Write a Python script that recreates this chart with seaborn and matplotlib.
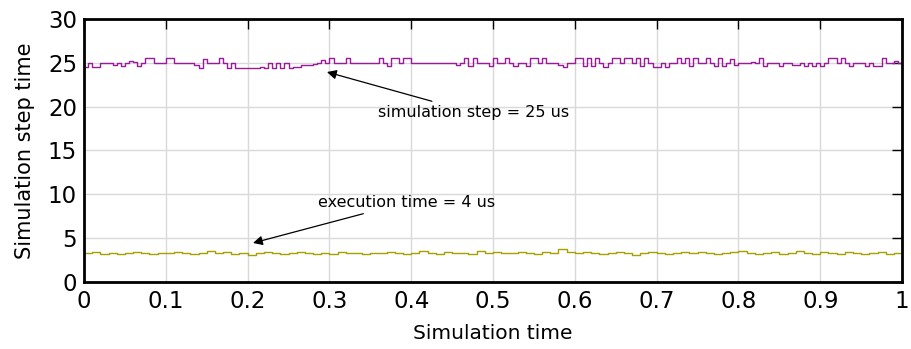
import numpy as np
import pandas as pd
import matplotlib
matplotlib.use("Agg")
import matplotlib.pyplot as plt
import seaborn as sns

# Simulation step time (purple), sampled every 0.005 of simulation time
step_values = [
    24.5, 25.0, 24.5, 24.5, 25.0, 25.0, 25.0, 24.8, 25.0, 24.6,
    25.0, 25.2, 25.1, 24.6, 25.0, 25.6, 25.6, 25.0, 25.0, 25.0,
    25.6, 25.6, 25.0, 25.0, 25.0, 25.0, 25.0, 24.8, 24.4, 25.4,
    25.0, 25.0, 25.0, 25.6, 25.0, 24.4, 25.0, 24.4, 24.4, 24.4,
    24.4, 24.4, 24.4, 24.5, 24.4, 25.0, 24.4, 25.0, 24.4, 25.0,
    24.4, 24.5, 24.5, 24.7, 24.8, 24.8, 24.9, 25.0, 25.3, 25.0,
    25.6, 25.0, 25.0, 25.0, 25.5, 25.0, 25.0, 25.0, 25.0, 25.0,
    25.0, 25.0, 25.5, 25.0, 24.6, 25.6, 25.6, 25.0, 25.6, 25.6,
    25.0, 25.0, 25.0, 25.0, 25.0, 25.0, 25.0, 25.0, 25.0, 25.0,
    25.0, 24.7, 25.0, 25.5, 24.6, 25.5, 25.0, 25.0, 25.0, 24.6,
    25.6, 25.0, 25.0, 25.6, 25.0, 24.6, 25.0, 25.0, 24.6, 25.6,
    25.6, 25.0, 25.6, 25.0, 25.0, 25.0, 24.8, 24.5, 25.0, 25.0,
    25.6, 25.6, 24.6, 25.6, 24.6, 25.6, 25.0, 24.5, 25.0, 25.6,
    25.6, 25.0, 25.6, 25.6, 25.0, 25.5, 24.6, 25.6, 25.0, 24.5,
    24.5, 25.0, 24.5, 25.0, 25.0, 25.6, 25.0, 25.6, 24.6, 25.6,
    25.0, 25.0, 25.6, 25.0, 24.6, 25.5, 24.6, 25.0, 25.4, 24.8,
    25.0, 25.0, 25.0, 25.1, 25.0, 25.6, 24.6, 25.0, 25.0, 25.0,
    24.6, 25.0, 25.0, 24.8, 24.8, 25.0, 24.6, 25.0, 24.6, 25.0,
    24.6, 25.0, 25.6, 25.6, 25.0, 25.6, 25.0, 24.6, 25.0, 25.0,
    25.0, 24.6, 25.0, 24.6, 24.6, 25.6, 25.0, 25.0, 25.2, 25.0, 25.0,
]

# Execution time (yellow), sampled every 0.01 of simulation time
exec_values = [
    3.3, 3.45, 3.2, 3.35, 3.15, 3.3, 3.45, 3.3, 3.15, 3.35,
    3.3, 3.45, 3.3, 3.15, 3.3, 3.5, 3.3, 3.45, 3.2, 3.3,
    3.1, 3.3, 3.45, 3.3, 3.2, 3.35, 3.45, 3.3, 3.15, 3.3,
    3.15, 3.45, 3.3, 3.35, 3.2, 3.3, 3.3, 3.45, 3.3, 3.15,
    3.3, 3.5, 3.3, 3.15, 3.45, 3.3, 3.35, 3.2, 3.5, 3.3,
    3.45, 3.3, 3.3, 3.45, 3.3, 3.2, 3.45, 3.3, 3.75, 3.4,
    3.3, 3.45, 3.3, 3.15, 3.3, 3.45, 3.3, 3.1, 3.3, 3.45,
    3.3, 3.2, 3.3, 3.45, 3.3, 3.45, 3.3, 3.15, 3.3, 3.45,
    3.5, 3.3, 3.15, 3.3, 3.45, 3.2, 3.3, 3.5, 3.3, 3.15,
    3.45, 3.3, 3.2, 3.45, 3.3, 3.15, 3.3, 3.45, 3.15, 3.3, 3.2,
]

x_ticks = [0, 0.1, 0.2, 0.3, 0.4, 0.5, 0.6, 0.7, 0.8, 0.9, 1]
x_tick_labels = ["0", "0.1", "0.2", "0.3", "0.4", "0.5", "0.6", "0.7", "0.8", "0.9", "1"]
y_ticks = [0, 5, 10, 15, 20, 25, 30]

step_df = pd.DataFrame({"t": np.linspace(0, 1, len(step_values)), "v": step_values})
exec_df = pd.DataFrame({"t": np.linspace(0, 1, len(exec_values)), "v": exec_values})

sns.set_style("white")
plt.rcParams["font.family"] = ["DejaVu Sans"]
plt.rcParams["text.color"] = "black"
plt.rcParams["axes.labelcolor"] = "black"

fig = plt.figure(figsize=(9.11, 3.49), dpi=100)
ax = fig.add_axes([0.0922, 0.192, 0.898, 0.7536])

sns.lineplot(data=step_df, x="t", y="v", ax=ax, color="#9a1a9a", linewidth=1.0,
             drawstyle="steps-post", estimator=None)
sns.lineplot(data=exec_df, x="t", y="v", ax=ax, color="#a8a000", linewidth=1.0,
             drawstyle="steps-post", estimator=None)

ax.set_xlim(0, 1)
ax.set_ylim(0, 30)
ax.set_xticks(x_ticks)
ax.set_xticklabels(x_tick_labels)
ax.set_yticks(y_ticks)
ax.grid(True, color="#d9d9d9", linewidth=1.0)
ax.set_axisbelow(True)
for s in ax.spines.values():
    s.set_visible(True)
    s.set_color("black")
    s.set_linewidth(2.0)
ax.tick_params(direction="in", length=7, width=1.0, top=True, right=True,
               labelsize=16.5, colors="black", labelcolor="black")
ax.tick_params(axis="x", pad=6)
ax.tick_params(axis="y", pad=5)
ax.set_xlabel("Simulation time", fontsize=14.5, labelpad=8, color="black")
ax.set_ylabel("Simulation step time", fontsize=15, labelpad=9, color="black")

ax.annotate("simulation step = 25 us", xy=(0.297, 23.95), xytext=(0.359, 19.3),
            fontsize=11.5, va="center", ha="left", color="black",
            arrowprops=dict(arrowstyle="-|>", color="black", lw=0.9,
                            mutation_scale=14, shrinkA=2, shrinkB=0))
ax.annotate("execution time = 4 us", xy=(0.2066, 4.45), xytext=(0.286, 9.1),
            fontsize=11.5, va="center", ha="left", color="black",
            arrowprops=dict(arrowstyle="-|>", color="black", lw=0.9,
                            mutation_scale=14, shrinkA=2, shrinkB=0))

fig.savefig("out.png", dpi=100)
